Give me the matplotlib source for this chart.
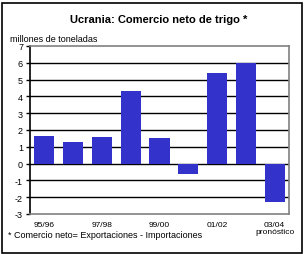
import matplotlib
matplotlib.use("Agg")
import matplotlib.pyplot as plt
from matplotlib.patches import Rectangle

seasons = ["95/96", "96/97", "97/98", "98/99", "99/00", "00/01", "01/02", "02/03", "03/04"]
net_trade = [1.65, 1.3, 1.6, 4.3, 1.55, -0.6, 5.4, 6.0, -2.3]
xlabels = ["95/96", "", "97/98", "", "99/00", "", "01/02", "", "03/04\npronóstico"]
yticks = list(range(-3, 8))

plt.rcParams["font.family"] = ["Liberation Sans", "DejaVu Sans"]

fig = plt.figure(figsize=(3.05, 2.55), dpi=100)
ax = fig.add_axes([30 / 305, 1 - 215 / 255, 259 / 305, 168 / 255])

x = range(len(seasons))
for yv in range(-2, 7):
    ax.axhline(yv, color="black", lw=1.0, zorder=1)
ax.bar(x, net_trade, width=0.7, color="#3333CC", zorder=2)

ax.set_xlim(-0.5, len(seasons) - 0.5)
ax.set_ylim(-3, 7)
ax.set_yticks(yticks)
ax.set_yticklabels([str(v) for v in yticks], fontsize=6.5)
ax.set_xticks(list(x))
ax.set_xticklabels(xlabels, fontsize=6, linespacing=0.95)
ax.tick_params(axis="x", length=0, pad=5)
ax.tick_params(axis="y", length=3, width=1, pad=2)

for s in ["top", "right", "bottom"]:
    ax.spines[s].set_color("#808080")
    ax.spines[s].set_linewidth(1.2)
ax.spines["left"].set_color("black")
ax.spines["left"].set_linewidth(1.2)

fig.text(0.52, 1 - 20 / 255, "Ucrania: Comercio neto de trigo *", ha="center", va="center",
         fontsize=8, fontweight="bold")
fig.text(10 / 305, 1 - 40 / 255, "millones de toneladas", ha="left", va="center", fontsize=6.5)
fig.text(8 / 305, 1 - 236 / 255, "* Comercio neto= Exportaciones - Importaciones", ha="left",
         va="center", fontsize=6.5)

fig.patches.append(Rectangle((1.5 / 305, 1.5 / 255), 300 / 305, 250 / 255, transform=fig.transFigure,
                             fill=False, edgecolor="black", lw=1.2))

fig.savefig("out.png", dpi=100)
